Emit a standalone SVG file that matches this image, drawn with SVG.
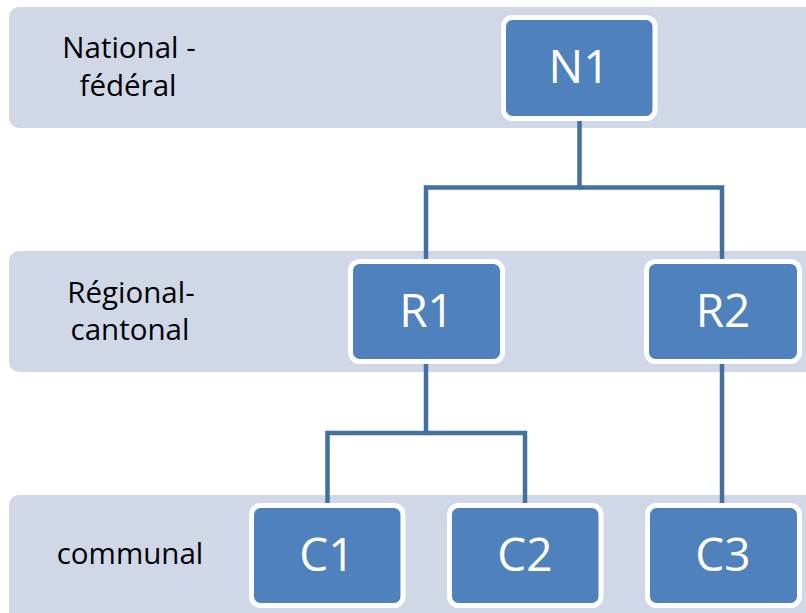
<svg xmlns="http://www.w3.org/2000/svg" width="806" height="613" viewBox="0 0 806 613">
<style>
.band{fill:#d0d8e8;}
.node{fill:#4f81bd;stroke:#ffffff;stroke-width:5;}
.lbl{font-family:"Open Sans","Liberation Sans",sans-serif;font-size:29.5px;fill:#000;text-anchor:middle;}
.ntx{font-family:"Open Sans","Liberation Sans",sans-serif;font-size:46px;fill:#fff;text-anchor:middle;}
.conn{fill:none;stroke:#41719c;stroke-width:4.5;}
</style>
<rect width="806" height="613" fill="#fff"/>
<g id="bands">
<rect class="band" x="9" y="7" width="820" height="121" rx="10"/>
<rect class="band" x="9" y="251" width="820" height="121" rx="10"/>
<rect class="band" x="9" y="495" width="820" height="130" rx="10"/>
</g>
<g id="levels">
<text class="lbl" x="129" y="58">National -</text>
<text class="lbl" x="128" y="96">fédéral</text>
<text class="lbl" x="131" y="303">Régional-</text>
<text class="lbl" x="130" y="340">cantonal</text>
<text class="lbl" x="130" y="564">communal</text>
</g>
<g id="connectors">
<path class="conn" d="M579.5 121 V187.5 H426 V259"/>
<path class="conn" d="M579.5 187.5 H722 V259"/>
<path class="conn" d="M426 364 V433 H327.5 V503"/>
<path class="conn" d="M426 433 H525 V503"/>
<path class="conn" d="M722 364 V503"/>
</g>
<g id="N1"><rect class="node" x="503.5" y="17.5" width="151.5" height="101" rx="9"/><text class="ntx" x="579" y="83">N1</text></g>
<g id="R1"><rect class="node" x="350.5" y="261.5" width="152" height="100" rx="9"/><text class="ntx" x="426.5" y="327">R1</text></g>
<g id="R2"><rect class="node" x="646.5" y="261.5" width="153" height="100" rx="9"/><text class="ntx" x="723" y="327">R2</text></g>
<g id="C1"><rect class="node" x="251.5" y="505.5" width="151.5" height="100" rx="9"/><text class="ntx" x="327" y="571">C1</text></g>
<g id="C2"><rect class="node" x="449.5" y="505.5" width="151.5" height="100" rx="9"/><text class="ntx" x="525" y="571">C2</text></g>
<g id="C3"><rect class="node" x="647.5" y="505.5" width="152" height="100" rx="9"/><text class="ntx" x="723" y="571">C3</text></g>
</svg>
